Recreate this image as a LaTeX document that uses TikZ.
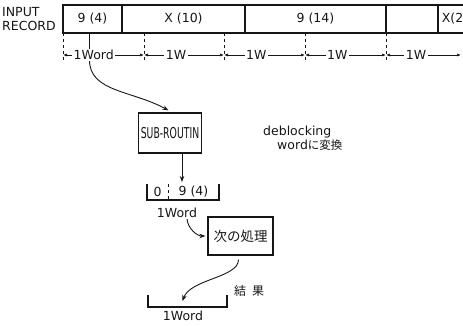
\documentclass[tikz,border=0pt]{standalone}
\usepackage{fontspec}
\setmainfont{DejaVu Sans}
\newfontfamily\jp{Noto Sans CJK JP}
\usepackage{graphicx}
\usepackage{tikz}
\usetikzlibrary{arrows.meta,positioning,calc}
\definecolor{recInk}{HTML}{161616}
\tikzset{
  lbl/.style={font=\fontsize{12.5}{14}\selectfont, text=recInk, inner sep=1pt},
  cell/.style={draw=recInk, line width=1.1pt, minimum height=28pt, inner sep=0pt,
               outer sep=0pt, font=\fontsize{12.5}{14}\selectfont, text=recInk},
  wcell/.style={minimum height=16pt, inner sep=0pt, outer sep=0pt,
                font=\fontsize{12.5}{14}\selectfont, text=recInk},
  frame/.style={draw=recInk, line width=1.2pt},
  pbox/.style={draw=recInk, line width=1.3pt, inner sep=2pt, text=recInk},
  flow/.style={-{Stealth[length=6pt,width=4.5pt]}, line width=0.9pt, draw=recInk},
  dim/.style={{Latex[length=4pt,width=3pt]}-{Latex[length=4pt,width=3pt]}, line width=0.7pt, draw=recInk},
  dimlbl/.style={lbl, fill=white, inner sep=1.5pt},
  tick/.style={dashed, line width=0.7pt, draw=recInk},
}
\begin{document}
\begin{tikzpicture}[x=1pt,y=-1pt]
  \useasboundingbox (0,0) rectangle (463,326);
  % input record
  \node[lbl, align=left, anchor=west] (inrec) at (1,19) {INPUT\\RECORD};
  \node[cell, anchor=north west, minimum width=59pt] (c1) at (63,5) {9 (4)};
  \node[cell, right=0pt of c1, minimum width=123pt] (c2) {X (10)};
  \node[cell, right=0pt of c2, minimum width=141pt] (c3) {9 (14)};
  \node[cell, right=0pt of c3, minimum width=52pt] (c4) {};
  \node[cell, right=0pt of c4, minimum width=34pt] (c5) {X(2)};
  % sub-routine
  \node[pbox, minimum width=62pt, minimum height=40pt] (sub) at (170,133)
    {\scalebox{0.62}[1]{\fontsize{15}{15}\selectfont SUB-ROUTIN}};
  \node[lbl, anchor=west] (deblk) at (262,132) {deblocking};
  \node[lbl, anchor=west] (conv) at (276,145) {word{\jp\fontsize{11.5}{13}\selectfont に変換}};
  \draw[flow, shorten >=4pt] ([xshift=-3pt]c1.south) -- ++(0,27)
    .. controls +(0,32) and +(-40,-22) .. ([xshift=2pt]sub.north);
  % word boundaries
  \foreach \x [count=\i] in {63,144,224,305,386} {
    \draw[tick] (\x,33) -- (\x,62);
    \coordinate (t\i) at (\x,55);
  }
  \coordinate (t6) at (461,55);
  \draw[dim] (t1) -- node[dimlbl, pos=.38] {1Word} (t2);
  \foreach \i/\j in {2/3,3/4,4/5,5/6}
    \draw[dim] (t\i) -- node[dimlbl, pos=.4] {1W} (t\j);
  % one word
  \node[wcell, minimum width=21pt] (wzero) at (157.5,192) {0};
  \node[wcell, right=0pt of wzero, minimum width=51pt] (wnine) {9 (4)};
  \draw[frame] (wzero.north west) |- (wnine.south east) -- (wnine.north east);
  \draw[tick] (wnine.north west) -- (wnine.south west);
  \draw[flow, shorten >=2pt] ([xshift=12pt]sub.south) -- ([xshift=12pt]sub.south |- wnine.north);
  \node[lbl] (w1) at (177,213) {1Word};
  % next step
  \node[pbox, minimum width=65pt, minimum height=38pt] (next) at (240.5,236)
    {\jp\fontsize{13.5}{15}\selectfont 次の処理};
  \draw[flow, shorten >=2pt] ([xshift=10pt]w1.south) .. controls +(1,10) and +(-10,0) .. (next.west);
  % result
  \node[wcell, minimum width=79pt, minimum height=12pt] (res) at (187.5,301) {};
  \draw[frame] (res.north west) |- (res.south east) -- (res.north east);
  \draw[flow, shorten <=4pt] ([xshift=-2pt]next.south) .. controls +(0,22) and +(8,-22) .. ([xshift=-5pt]res.center);
  \node[lbl] (kekka) at (249,291) {\jp\fontsize{12}{14}\selectfont 結\enspace 果};
  \node[lbl] (w2) at (183,316) {1Word};
\end{tikzpicture}
\end{document}
